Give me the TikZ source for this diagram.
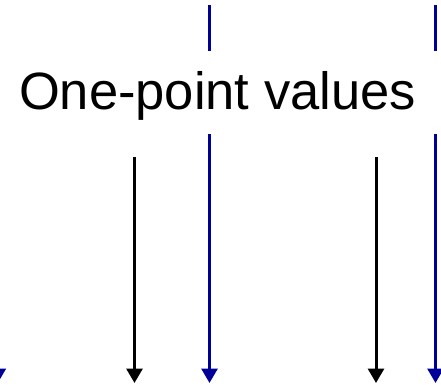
\documentclass[tikz,border=0pt]{standalone}
\usepackage{fontspec}
\setmainfont{Liberation Sans}
\usetikzlibrary{arrows.meta}
\definecolor{navy}{RGB}{0,0,153}
\begin{document}
\begin{tikzpicture}[x=1pt,y=-1pt,
  bluearr/.style={draw=navy,line width=3pt,-{Triangle[width=16pt,length=14.5pt]},fill=navy},
  blackarr/.style={draw=black,line width=3pt,-{Triangle[width=16pt,length=14.5pt]}},
  blueseg/.style={draw=navy,line width=3pt}]
\useasboundingbox (0,0) rectangle (441,384);
\clip (0,0) rectangle (441,384);
\node[anchor=base,inner sep=0pt,font=\fontsize{52.5}{60}\selectfont] (title) at (217.5,109) {One-point values};
% top blue segments
\coordinate (t1a) at (209.5,5);  \coordinate (t1b) at (209.5,50.5);
\coordinate (t2a) at (435.5,5);  \coordinate (t2b) at (435.5,50.5);
\draw[blueseg] (t1a) -- (t1b);
\draw[blueseg] (t2a) -- (t2b);
% lower arrows
\coordinate (b0s) at (-2.2,134);  \coordinate (b0e) at (-2.2,383);
\coordinate (b1s) at (209.5,134); \coordinate (b1e) at (209.5,383);
\coordinate (b2s) at (435.5,134); \coordinate (b2e) at (435.5,383);
\coordinate (k1s) at (134.5,157); \coordinate (k1e) at (134.5,383);
\coordinate (k2s) at (376,157); \coordinate (k2e) at (376,383);
\draw[bluearr] (b0s) -- (b0e);
\draw[bluearr] (b1s) -- (b1e);
\draw[bluearr] (b2s) -- (b2e);
\draw[blackarr] (k1s) -- (k1e);
\draw[blackarr] (k2s) -- (k2e);
\end{tikzpicture}
\end{document}
